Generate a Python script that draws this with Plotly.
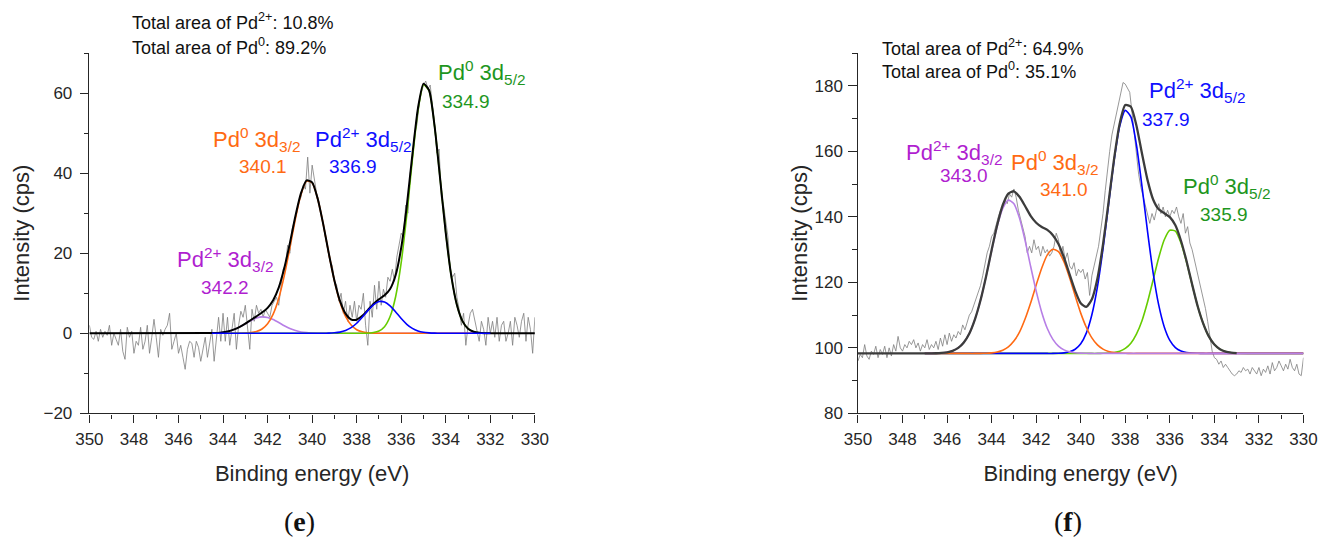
import numpy as np
import plotly.graph_objects as go

W, H = 1340, 552

# ---------------- panel (e) data ----------------
raw_e_energy = np.round(np.arange(350.0, 329.95, -0.1), 1)
raw_e_counts = [
    2, -1, -1.5, 0.5, -2, 1, -1, 0.5, -0.5, 2,
    -3, 0, -1.5, -3, 1, -4.5, -6.5, 1.5, -1, 0.5,
    -5, -2, -3, 1.5, -4, -2, 2, -5, -1, 3.5,
    -1, -6, 1, -0.5, 1, 2, 5, -4, -2, 0,
    -5, -3, -6, -9, -4, -2, -2.5, -6, -2, -3.5,
    -7, -4, -1, -6, -2, 1, -7, -2, 4, -2,
    5, -2, 4, -3, 1, 5, -4, 2, 5.5, 4,
    7, 1, -4, 6, 3, 7, 5, 6, 4, 6,
    5, 4, 7, 8, 9, 7, 12, 16, 17, 22,
    20, 26, 28, 30, 33, 34, 37, 36, 44, 35,
    42, 38, 35, 33, 30, 28, 24, 22, 18, 17,
    13, 12, 8, 10, 5, 8, 3, 7, 4, 8,
    3, 7, 6, 10, 2, -3, 8, 4, 12, 6,
    13, 7, 11, 9, 14, 13, 16, 13, 19, 22,
    25, 24, 32, 30, 40, 43, 50, 52, 57, 60,
    62, 63, 61, 62, 57, 52, 45, 46, 34, 32,
    28, 24, 16, 14, 15, 9, 6, 2, 5, -3,
    2, 5, 6, 3, 0, -2, 3, 1, -3, 4,
    0, 3, -1, 4, -2, 2, 3, -2, 0, 3,
    -3, 4, 2, -1, 3, 5, -2, 4, 1, -5,
    4,
]

fit_e_energy = np.round(np.arange(344.5, 331.99, -0.25), 2)
e_pd2_32 = [0.05, 0.1, 0.26, 0.52, 0.97, 1.6, 2.37, 3.17, 3.8, 4.1,
            3.96, 3.45, 2.7, 1.9, 1.19, 0.68, 0.34, 0.16, 0.07, 0.02] + [0] * 31
e_pd0_32 = [0, 0, 0, 0, 0, 0.01, 0.05, 0.16, 0.44, 1.08,
            2.39, 4.8, 8.7, 14.4, 21.3, 28.6, 34.7, 38.0, 37.6, 33.6,
            27.2, 19.9, 13.1, 7.8, 4.2, 2.05, 0.9, 0.36, 0.13, 0.04] + [0] * 21
e_pd2_52 = [0] * 20 + [0.01, 0.04, 0.12, 0.3, 0.69, 1.4, 2.5, 4.0, 5.66, 7.1,
                       7.92, 7.83, 6.86, 5.34, 3.68, 2.25, 1.22, 0.59, 0.25, 0.1,
                       0.03] + [0] * 10
e_pd0_52 = [0] * 29 + [0.18, 0.58, 1.66, 4.2, 9.2, 17.7, 29.6, 43.4, 55.6, 62.1,
                       60.6, 51.6, 38.4, 25.0, 14.2, 7.05, 3.04, 1.16, 0.38, 0.11,
                       0.03, 0]
e_envelope = [0.05, 0.1, 0.26, 0.52, 0.97, 1.61, 2.42, 3.33, 4.24, 5.18,
              6.35, 8.25, 11.4, 16.3, 22.5, 29.3, 35.0, 38.2, 37.7, 33.6,
              27.2, 19.9, 13.2, 8.1, 4.9, 3.45, 3.4, 4.36, 5.79, 7.32,
              8.5, 9.49, 11.06, 14.54, 21.38, 31.85, 44.62, 56.19, 62.35, 60.7,
              51.63, 38.4, 25.0, 14.2, 7.05, 3.04, 1.16, 0.38, 0.11, 0.03, 0.0]
e_baseline = 0.0

# ---------------- panel (f) data ----------------
raw_f_energy = np.round(np.arange(350.0, 329.95, -0.1), 1)
raw_f_counts = [
    96, 98, 97, 101, 97.5, 96.5, 99, 98, 100.5, 97,
    99.5, 98, 100.5, 97, 100, 97.5, 101, 99, 103.5, 100,
    99, 101, 100, 102, 101, 102.5, 100, 101.5, 99, 101,
    100, 102.5, 99.5, 101, 100, 102, 99.5, 103, 100.5, 104,
    101, 104.5, 102, 104, 103, 105, 104, 107, 105.5, 108,
    110, 111, 113, 115, 117, 119, 122, 126, 129, 131,
    134, 135, 138, 140, 142, 143, 145, 144, 147, 146,
    148.5, 146, 142, 139, 136, 134, 129, 131, 129, 133,
    130, 131, 128, 131, 129, 130, 128, 129, 131, 135,
    133, 128, 131, 127, 129, 125, 124, 126, 122, 124,
    123, 124, 121, 123, 116, 122, 125, 128, 131, 136,
    141, 148, 155, 160, 165, 168, 172, 175, 178, 181,
    180.5, 179, 178, 172, 165, 160, 153, 149, 146, 143,
    140, 138, 141, 139, 142, 144, 141, 143, 140, 142,
    140, 142, 141, 143, 140, 138, 141, 135, 137, 132,
    130, 127, 125, 121, 118, 116, 112, 108, 104, 99,
    97, 96.5, 95, 96, 94, 95, 94, 93, 92, 91.5,
    92, 93, 92.5, 94, 93, 93.5, 92, 94, 93, 92,
    94, 91.5, 93.5, 92.5, 94.5, 92, 95.5, 93, 94, 96,
    94.5, 93, 95, 93.5, 96.5, 94, 93, 95, 92, 91.5,
    97,
]

fit_f_energy = np.round(np.arange(347.0, 332.99, -0.25), 2)
f_baseline = 98.3
f_pd2_32 = [98.3, 98.32, 98.35, 98.44, 98.64, 99.09, 99.98, 101.64, 104.4, 108.7,
            114.5, 121.75, 129.7, 137.1, 142.6, 145.1, 144.0, 139.6, 132.8, 124.9,
            117.3, 110.8, 105.9, 102.6, 100.54, 99.38, 98.78, 98.5, 98.38, 98.33] + [98.3] * 27
f_pd0_32 = [98.3] * 10 + [98.32, 98.37, 98.48, 98.74, 99.27, 100.3, 102.07, 104.8, 108.8, 113.7,
                         119.2, 124.4, 128.4, 130.1, 129.4, 126.2, 121.4, 115.9, 110.6, 106.3,
                         103.05, 100.9, 99.62, 98.91, 98.56, 98.4, 98.34] + [98.3] * 20
f_pd2_52 = [98.3] * 24 + [98.36, 98.48, 98.8, 99.58, 101.25, 104.5, 110.1, 118.6, 130.2, 143.8,
                         157.3, 167.7, 172.5, 170.5, 162.0, 149.3, 135.5, 122.9, 113.1, 106.4,
                         102.3, 100.1, 99.04, 98.58, 98.39, 98.33] + [98.3] * 7
f_pd0_52 = [98.3] * 32 + [98.33, 98.4, 98.58, 98.97, 99.82, 101.4, 104.2, 108.3, 114.0, 120.7,
                         127.5, 133.0, 135.9, 135.6, 132.0, 126.2, 119.3, 112.7, 107.4, 103.5,
                         101.03, 99.6, 98.87, 98.53, 98.38]
f_envelope = [98.3, 98.32, 98.35, 98.44, 98.64, 99.09, 99.98, 101.64, 104.4, 108.7,
              114.52, 121.8, 129.9, 137.5, 143.6, 147.1, 147.8, 146.1, 143.3, 140.3,
              138.2, 136.9, 136.0, 134.4, 131.7, 127.5, 122.4, 117.4, 113.6, 112.5,
              114.85, 121.2, 131.55, 144.5, 157.8, 168.5, 174.1, 173.6, 167.9, 159.3,
              151.2, 145.3, 142.3, 141.1, 139.9, 137.4, 132.7, 126.5, 119.4, 112.7,
              107.4, 103.5, 101.0, 99.6, 98.87, 98.53, 98.38]

for arr in (e_pd2_32, e_pd0_32, e_pd2_52, e_pd0_52, e_envelope):
    assert len(arr) == len(fit_e_energy), len(arr)
for arr in (f_pd2_32, f_pd0_32, f_pd2_52, f_pd0_52, f_envelope):
    assert len(arr) == len(fit_f_energy), len(arr)
assert len(raw_e_counts) == len(raw_e_energy)
assert len(raw_f_counts) == len(raw_f_energy)

# ---------------- styling ----------------
C_RAW = "#7d7d7d"
C_ORANGE = "#ff6a13"
C_BLUE = "#0000ff"
C_GREEN = "#66cc00"
C_PURPLE = "#b77fe6"
T_ORANGE = "#ff6a13"
T_BLUE = "#1010ff"
T_GREEN = "#1e961e"
T_PURPLE = "#b01fd0"
AX = "#262626"
SANS = "Liberation Sans, Arial, sans-serif"
SERIF = "Liberation Serif, Times New Roman, serif"

fig = go.Figure()


def line(x, y, color, width, xa, ya):
    fig.add_trace(go.Scatter(x=list(x), y=list(y), mode="lines",
                             line=dict(color=color, width=width, shape="spline", smoothing=0.6),
                             xaxis=xa, yaxis=ya, showlegend=False, hoverinfo="skip"))


# panel (e)
fig.add_trace(go.Scatter(x=raw_e_energy, y=raw_e_counts, mode="lines",
                         line=dict(color=C_RAW, width=0.8), xaxis="x", yaxis="y",
                         showlegend=False, hoverinfo="skip"))
line(fit_e_energy, e_pd2_32, C_PURPLE, 1.6, "x", "y")
line(fit_e_energy, e_pd0_32, C_ORANGE, 1.6, "x", "y")
line(fit_e_energy, e_pd0_52, C_GREEN, 1.6, "x", "y")
line([350.0] + list(fit_e_energy) + [330.0], [e_baseline] + e_envelope + [e_baseline], "#000000", 2.0, "x", "y")
line(fit_e_energy, e_pd2_52, C_BLUE, 1.6, "x", "y")

# panel (f)
fig.add_trace(go.Scatter(x=raw_f_energy, y=raw_f_counts, mode="lines",
                         line=dict(color=C_RAW, width=0.8), xaxis="x2", yaxis="y2",
                         showlegend=False, hoverinfo="skip"))
fx = list(fit_f_energy) + [330.0]
line(fx, f_pd0_52 + [f_baseline], C_GREEN, 1.6, "x2", "y2")
line(fx, f_pd2_52 + [f_baseline], C_BLUE, 1.6, "x2", "y2")
line(fx, f_pd0_32 + [f_baseline], C_ORANGE, 1.6, "x2", "y2")
line(fx, f_pd2_32 + [f_baseline], C_PURPLE, 1.6, "x2", "y2")
line([350.0] + list(fit_f_energy), [f_baseline] + f_envelope, "#3c3c3c", 2.3, "x2", "y2")


def xaxis_style(dom):
    return dict(domain=dom, range=[350, 330], tick0=330, dtick=2, showline=True,
                linecolor=AX, linewidth=1.3, ticks="outside", ticklen=8.5, tickwidth=1.3,
                tickcolor=AX, showgrid=False, zeroline=False, ticklabelstandoff=2,
                tickfont=dict(family=SANS, size=17, color=AX),
                minor=dict(ticks="outside", ticklen=4.5, tickwidth=1.3, tickcolor=AX, dtick=1),
                title=dict(text="Binding energy (eV)", font=dict(family=SANS, size=22, color=AX),
                           standoff=17))


def yaxis_style(rng, dom_y, lab_off, title_off):
    return dict(domain=dom_y, range=rng, dtick=20, showline=True, linecolor=AX, linewidth=1.3,
                ticks="outside", ticklen=8.5, tickwidth=1.3, tickcolor=AX, showgrid=False,
                zeroline=False, ticklabelstandoff=lab_off,
                tickfont=dict(family=SANS, size=17, color=AX),
                minor=dict(ticks="outside", ticklen=4.5, tickwidth=1.3, tickcolor=AX, dtick=10),
                title=dict(text="Intensity (cps)", font=dict(family=SANS, size=22, color=AX),
                           standoff=title_off))


ydom = [1 - 421 / H, 1 - 54 / H]
fig.update_layout(
    width=W, height=H, margin=dict(l=0, r=0, t=0, b=0),
    paper_bgcolor="white", plot_bgcolor="white",
    xaxis=dict(anchor="y", **xaxis_style([77 / W, 532 / W])),
    yaxis=dict(anchor="x", **yaxis_style([-20, 70], ydom, 4, 7)),
    xaxis2=dict(anchor="y2", **xaxis_style([862 / W, 1317 / W])),
    yaxis2=dict(anchor="x2", **yaxis_style([80, 190], ydom, 2, 0)),
)


def note(text, x, y, size, color, family=SANS, xanchor="center"):
    fig.add_annotation(text=text, x=x / W, y=1 - y / H, xref="paper", yref="paper",
                       xanchor=xanchor, yanchor="middle", showarrow=False,
                       font=dict(family=family, size=size, color=color))


# panel (e) texts
note("Total area of Pd<sup>2+</sup>: 10.8%", 118, 22, 18, "#111111", xanchor="left")
note("Total area of Pd<sup>0</sup>: 89.2%", 118, 47, 18, "#111111", xanchor="left")
note("Pd<sup>0</sup> 3d<sub>5/2</sub>", 477, 74, 22, T_GREEN)
note("334.9", 462, 103, 19, T_GREEN)
note("Pd<sup>0</sup> 3d<sub>3/2</sub>", 248, 142, 22, T_ORANGE)
note("340.1", 254, 170, 19, T_ORANGE)
note("Pd<sup>2+</sup> 3d<sub>5/2</sub>", 356, 142, 22, T_BLUE)
note("336.9", 346, 170, 19, T_BLUE)
note("Pd<sup>2+</sup> 3d<sub>3/2</sub>", 216, 264, 22, T_PURPLE)
note("342.2", 216, 293, 19, T_PURPLE)
note("(<b>e</b>)", 292, 531, 28, "#111111", family=SERIF)

# panel (f) texts
note("Total area of Pd<sup>2+</sup>: 64.9%", 884, 48, 18, "#111111", xanchor="left")
note("Total area of Pd<sup>0</sup>: 35.1%", 884, 72, 18, "#111111", xanchor="left")
note("Pd<sup>2+</sup> 3d<sub>5/2</sub>", 1208, 92, 22, T_BLUE)
note("337.9", 1177, 122, 19, T_BLUE)
note("Pd<sup>2+</sup> 3d<sub>3/2</sub>", 960, 155, 22, T_PURPLE)
note("343.0", 970, 179, 19, T_PURPLE)
note("Pd<sup>0</sup> 3d<sub>3/2</sub>", 1063, 165, 22, T_ORANGE)
note("341.0", 1072, 193, 19, T_ORANGE)
note("Pd<sup>0</sup> 3d<sub>5/2</sub>", 1238, 190, 22, T_GREEN)
note("335.9", 1236, 218, 19, T_GREEN)
note("(<b>f</b>)", 1076, 531, 28, "#111111", family=SERIF)

fig.write_html("out.html")
